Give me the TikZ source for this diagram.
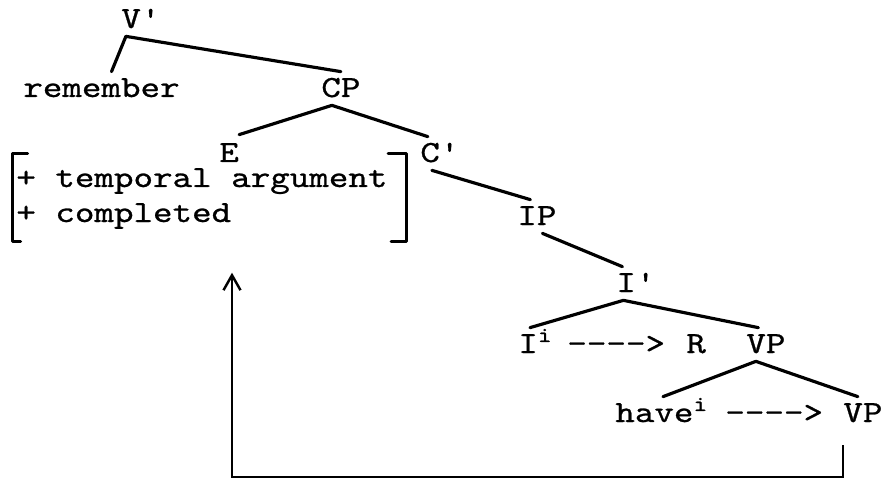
\documentclass[tikz,border=0pt]{standalone}
\usepackage{fontspec}
\newfontfamily\typeface{lmmono10-regular.otf}[Ligatures=TeXOff, FakeStretch=1.21, FakeBold=0.8]
\usetikzlibrary{arrows.meta,fit}

\newcommand{\treefont}{\typeface\fontsize{17.5}{20}\selectfont}

\tikzset{
    cat/.style={font=\treefont, inner sep=1.6mm, text height=3.4mm, text depth=0pt, anchor=base west},
    feature/.style={font=\treefont, inner sep=0pt, text height=4.2mm, text depth=1.4mm, anchor=base west},
    branch/.style={line width=1.8pt, line cap=round},
    bracketline/.style={line width=1.8pt, line cap=round, line join=round},
    backline/.style={line width=1.4pt, -{Straight Barb[length=3mm, width=3.4mm]}}
}

\begin{document}
\begin{tikzpicture}[x=0.2mm, y=-0.2mm]
    \useasboundingbox (0, 0) rectangle (885, 480);

    % Tree nodes
    \node[cat] (Vbar) at (113, 28) {V'};
    \node[cat] (remember) at (15, 97) {remember};
    \node[cat] (CP) at (313, 97) {CP};
    \node[cat, inner ysep=0pt] (E) at (211, 162) {E};
    \node[cat] (Cbar) at (412, 162) {C'};
    \node[cat] (IP) at (509, 225) {IP};
    \node[cat] (Ibar) at (608, 292) {I'};
    \node[cat] (Ii) at (510, 353) {I\textsuperscript{i}};
    \node[cat] (arrowA) at (559, 353) {---->};
    \node[cat] (R) at (678, 353) {R};
    \node[cat] (VPone) at (738, 353) {VP};
    \node[cat] (have) at (607, 422) {have\textsuperscript{i}};
    \node[cat] (arrowB) at (717, 422) {---->};
    \node[cat] (VPtwo) at (835, 422) {VP};

    % Feature bundle of E
    \node[feature] (featA) at (16, 187) {+ temporal argument};
    \node[feature] (featB) at (16, 222) {+ completed};
    \node[fit=(featA)(featB), inner xsep=0pt, inner ysep=2.4mm] (feat) {};
    \draw[bracketline] ([xshift=2.4mm]feat.north west) -- ([xshift=-0.6mm]feat.north west)
        -- ([xshift=-0.6mm]feat.south west) -- ([xshift=1mm]feat.south west);
    \draw[bracketline] (feat.north east) -- ([xshift=3.6mm]feat.north east)
        -- ([xshift=3.6mm]feat.south east) -- ([xshift=0.6mm]feat.south east);

    % Branches
    \draw[branch] ([xshift=-3mm]Vbar.south) -- ([xshift=2mm]remember.north);
    \draw[branch] ([xshift=-3mm]Vbar.south) -- (CP.north);
    \draw[branch] ([xshift=-1.8mm]CP.south) -- ([xshift=2mm, yshift=2mm]E.north);
    \draw[branch] ([xshift=-1.8mm]CP.south) -- ([xshift=-2.4mm]Cbar.north);
    \draw[branch] ([xshift=-1.6mm]Cbar.south) -- ([xshift=-1.3mm]IP.north);
    \draw[branch] ([xshift=1.1mm]IP.south) -- ([xshift=-2.7mm]Ibar.north);
    \draw[branch] ([xshift=-2.5mm]Ibar.south) -- ([xshift=4mm]Ii.north west);
    \draw[branch] ([xshift=-2.5mm]Ibar.south) -- ([xshift=-1.5mm]VPone.north);
    \draw[branch] ([xshift=-2mm]VPone.south) -- ([xshift=11.2mm]have.north west);
    \draw[branch] ([xshift=-2mm]VPone.south) -- ([xshift=-1mm]VPtwo.north);

    % Link back to the features of E
    \coordinate (loopcorner) at (232, 477);
    \draw[backline, shorten >=6.2mm] ([xshift=-4mm, yshift=-3mm]VPtwo.south)
        |- (loopcorner) -- (loopcorner |- feat.south);
\end{tikzpicture}
\end{document}
